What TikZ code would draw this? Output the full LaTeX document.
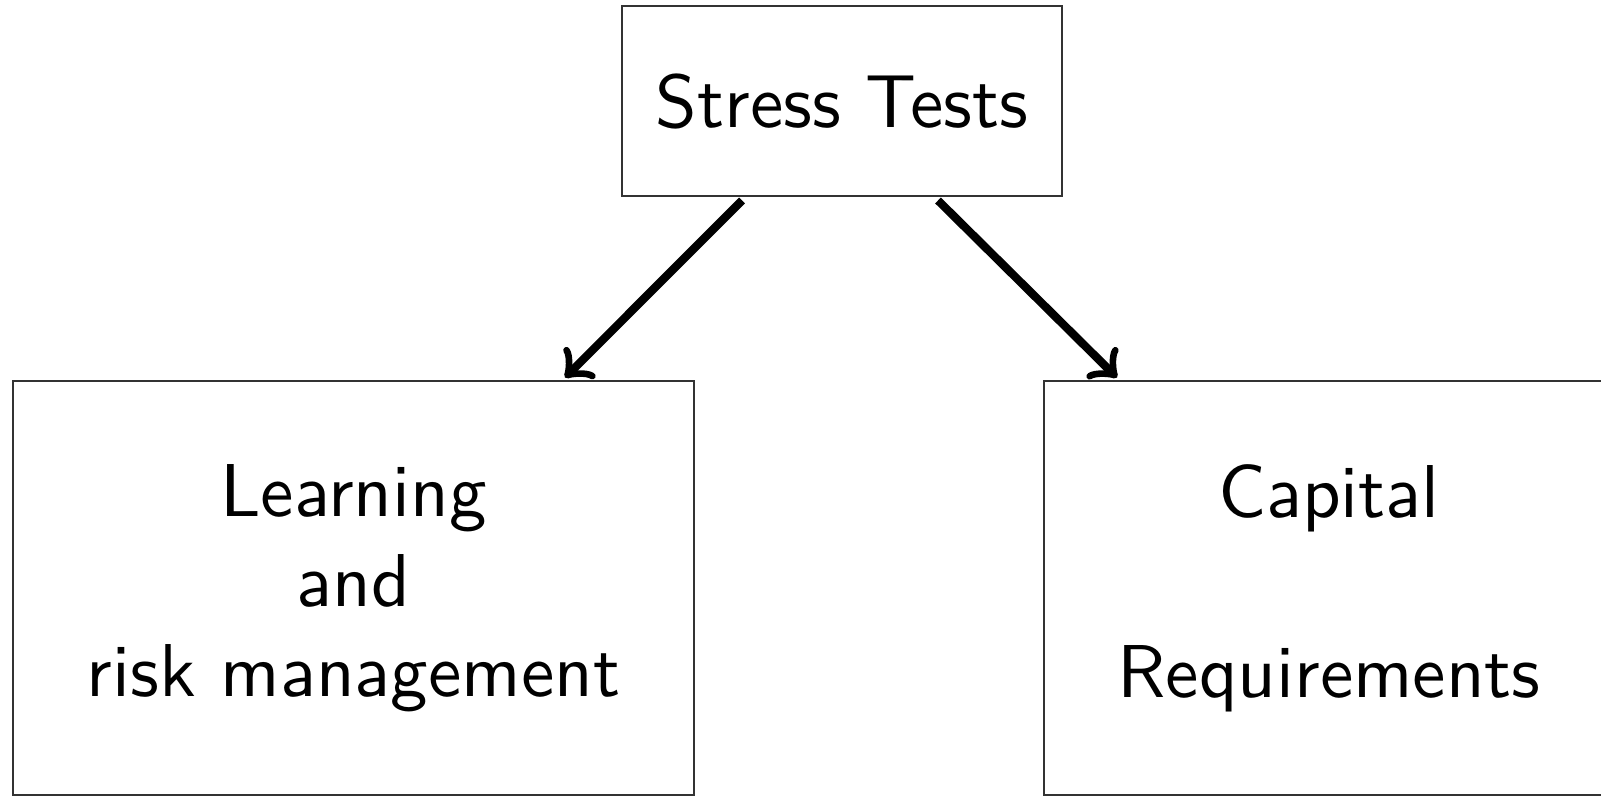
\documentclass[tikz,border=0pt]{standalone}
\usetikzlibrary{calc}
\begin{document}
\begin{tikzpicture}[x=0.1335pt,y=-0.1335pt,
  box/.style={draw=black!80, line width=0.35pt, inner sep=0pt, align=center,
              font=\sffamily, text=black},
  link/.style={->, line width=1.1pt}]
  \useasboundingbox (0,0) rectangle (1601,799);
  \clip (0,0) rectangle (1601,799);
  % top node and the two consequences
  \node[box, minimum width=58.7pt, minimum height=25.4pt] (st) at (842,101) {Stress Tests};
  \node[box, minimum width=90.9pt, minimum height=55.3pt] (lb) at (353.5,588)
       {Learning\\and\\risk management};
  \node[box, minimum width=76.1pt, minimum height=55.3pt] (rb) at (1329,588)
       {Capital\\[\baselineskip]Requirements};
  % arrows
  \draw[link] ($(st.south)+(-100,3)$) -- ($(lb.north)+(211.5,-2)$);
  \draw[link] ($(st.south)+(96,3)$) -- ($(rb.north)+(-212,-2)$);
\end{tikzpicture}
\end{document}
